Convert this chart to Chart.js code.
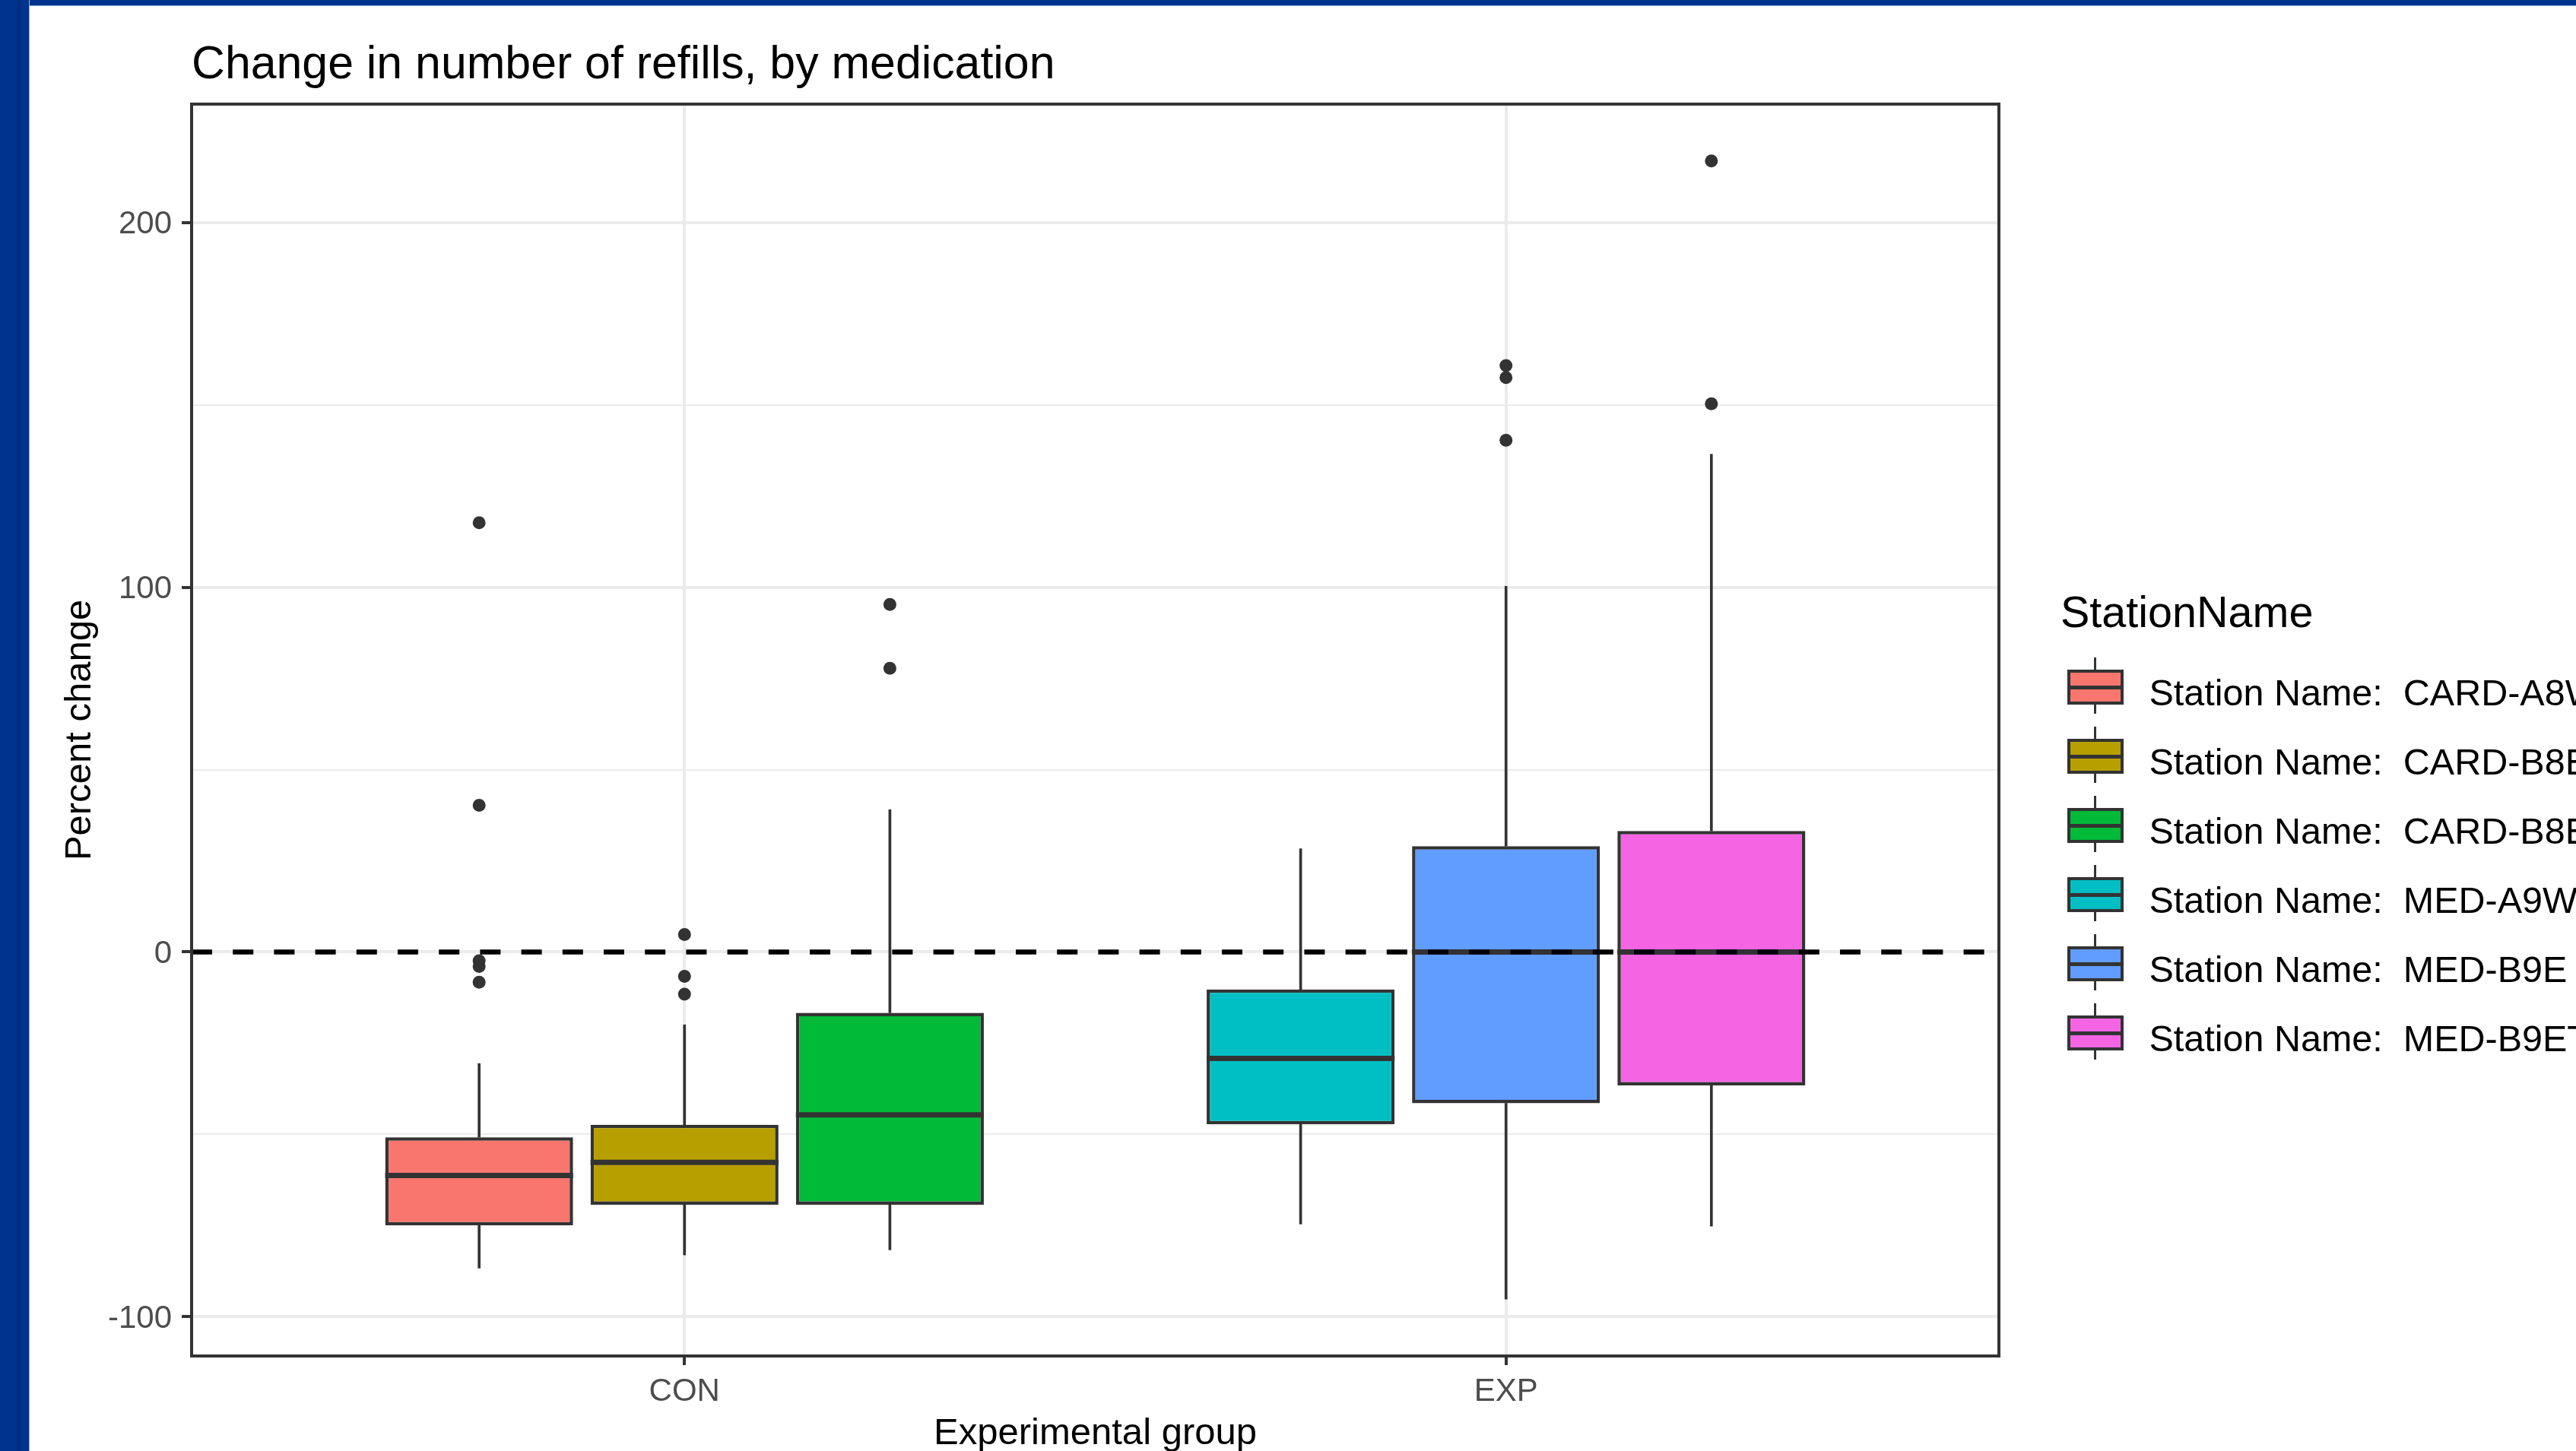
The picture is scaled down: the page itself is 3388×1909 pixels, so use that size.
<!DOCTYPE html>
<html>
<head>
<meta charset="utf-8">
<title>Change in number of refills, by medication</title>
<script src="https://cdn.jsdelivr.net/npm/chart.js@4.4.0/dist/chart.umd.min.js"></script>
<style>
  html, body { margin: 0; padding: 0; width: 3388px; height: 1909px; overflow: hidden; background: #fff; }
  #frameTop { position: absolute; left: 0; top: 0; width: 3388px; height: 7px; background: #00338d; border-bottom: 1px solid #8fa9dc; }
  #frameLeft { position: absolute; left: 0; top: 0; width: 38px; height: 1909px; background: #00338d; border-right: 1px solid #8fa9dc; }
  #frameLeft::after { content: ''; position: absolute; left: 22px; top: 0; width: 5px; height: 100%; background: #002c80; }
  #myChart { position: absolute; left: 0; top: 0; width: 3388px; height: 1909px; }
  .legend { position: absolute; left: 2710px; top: 0; font-family: 'Liberation Sans', Arial, sans-serif; color: #000; white-space: nowrap; }
  .legend-title { position: absolute; left: 0; top: 776px; font-size: 57.5px; line-height: 58px; }
  .legend-row { position: absolute; left: 0; width: 1000px; height: 91px; }
  .key-whisker { position: absolute; left: 44px; top: 9px; width: 3px; height: 74px; background: #333; }
  .key-box { position: absolute; left: 8.5px; top: 24.5px; width: 74px; height: 46px; box-sizing: border-box; border: 4.5px solid #333; }
  .key-median { position: absolute; left: 8.5px; top: 46px; width: 74px; height: 4.5px; background: #333; }
  .key-label { position: absolute; left: 116.5px; top: 30px; font-size: 48.5px; line-height: 50px; white-space: pre; }
</style>
</head>
<body>
<div id="frameTop"></div>
<div id="frameLeft"></div>
<canvas id="myChart" width="3388" height="1909"></canvas>
<div class="legend" id="legend"></div>
<script>
// values (percent change)
const groups = ['CON', 'EXP'];
const stations = ['CARD-A8W', 'CARD-B8E', 'CARD-B8ET', 'MED-A9W', 'MED-B9E', 'MED-B9ET'];
const stationGroup = ['CON', 'CON', 'CON', 'EXP', 'EXP', 'EXP'];
const whiskerLow = [-86.7, -83.1, -81.7, -74.6, -95.2, -75.2];
const lowerQuartile = [-75.0, -69.3, -69.3, -47.3, -41.5, -36.6];
const medians = [-61.3, -57.7, -44.7, -29.2, 0.0, 0.0];
const upperQuartile = [-50.8, -47.4, -16.7, -10.3, 29.0, 33.2];
const whiskerHigh = [-30.6, -20.0, 39.0, 28.3, 100.3, 136.5];
const outliers = [
    [117.7, 40.2, -2.4, -4.0, -8.3],
    [4.8, -6.7, -11.6],
    [95.3, 77.8],
    [],
    [160.8, 157.5, 140.3],
    [216.9, 150.3]
];
const fillColors = ['#F8766D', '#B79F00', '#00BA38', '#00BFC4', '#619CFF', '#F564E3'];
const yMajor = [-100, 0, 100, 200];
const yMinor = [-50, 50, 150];
const yLimits = [-110.8, 232.5];
const xLimits = [0.4, 2.6];
const refLine = 0;

Chart.defaults.font.family = "'Liberation Sans', Arial, sans-serif";

// dodge the boxes inside each group, like ggplot does (0.75 wide)
var dodgeWidth = 0.75;
var xPos = stations.map(function (s, i) {
    var members = stations.filter(function (_, j) { return stationGroup[j] === stationGroup[i]; });
    var slot = members.indexOf(s);
    return groups.indexOf(stationGroup[i]) + 1 + (slot - (members.length - 1) / 2) * dodgeWidth / members.length;
});

var datasets = [];
var boxIndex = [];
stations.forEach(function (s, i) {
    datasets.push({
        type: 'bar',
        label: s + ' whiskers',
        order: 3,
        data: [{x: xPos[i], y: [whiskerLow[i], lowerQuartile[i]]}, {x: xPos[i], y: [upperQuartile[i], whiskerHigh[i]]}],
        backgroundColor: '#333333',
        borderWidth: 0,
        barThickness: 3,
        grouped: false
    });
    boxIndex.push(datasets.length);
    datasets.push({
        type: 'bar',
        label: s,
        order: 2,
        data: [{x: xPos[i], y: [lowerQuartile[i], upperQuartile[i]]}],
        backgroundColor: fillColors[i],
        borderColor: '#333333',
        borderWidth: 4.5,
        borderSkipped: false,
        grouped: false,
        categoryPercentage: 1,
        barPercentage: 0.915
    });
    datasets.push({
        type: 'scatter',
        label: s + ' outliers',
        order: 1,
        data: outliers[i].map(function (v) { return {x: xPos[i], y: v}; }),
        pointRadius: 8.5,
        pointHoverRadius: 8.5,
        pointBackgroundColor: '#333333',
        pointBorderWidth: 0
    });
});

// medians, dashed reference line and panel border
var boxplotOverlay = {
    id: 'boxplotOverlay',
    afterDatasetsDraw: function (chart) {
        var ctx = chart.ctx;
        var area = chart.chartArea;
        var y = chart.scales.y;
        ctx.save();
        ctx.strokeStyle = '#333333';
        ctx.lineWidth = 7;
        boxIndex.forEach(function (di, i) {
            var bar = chart.getDatasetMeta(di).data[0];
            var py = y.getPixelForValue(medians[i]);
            ctx.beginPath();
            ctx.moveTo(bar.x - bar.width / 2, py);
            ctx.lineTo(bar.x + bar.width / 2, py);
            ctx.stroke();
        });

        ctx.beginPath();
        ctx.rect(area.left, area.top, area.right - area.left, area.bottom - area.top);
        ctx.clip();
        ctx.setLineDash([27, 27.2]);
        ctx.lineWidth = 6.5;
        ctx.strokeStyle = '#000000';
        var zy = y.getPixelForValue(refLine);
        ctx.beginPath();
        ctx.moveTo(area.left, zy);
        ctx.lineTo(area.right, zy);
        ctx.stroke();
        ctx.restore();

        ctx.save();
        ctx.strokeStyle = '#333333';
        ctx.lineWidth = 4;
        ctx.strokeRect(area.left, area.top, area.right - area.left, area.bottom - area.top);
        ctx.restore();
    }
};

function isMajor(c) {
    return c.tick && yMajor.indexOf(c.tick.value) !== -1;
}

var ctx = document.getElementById('myChart');
var chart = new Chart(ctx, {
    type: 'bar',
    data: { datasets: datasets },
    plugins: [boxplotOverlay],
    options: {
        responsive: false,
        animation: false,
        events: [],
        layout: { padding: { left: 0, right: 759, top: 0, bottom: 0 } },
        plugins: {
            legend: { display: false },
            tooltip: { enabled: false },
            title: {
                display: true,
                text: 'Change in number of refills, by medication',
                align: 'start',
                fullSize: false,
                color: '#000000',
                font: { size: 60.8, weight: 'normal', lineHeight: 1.2 },
                padding: { top: 50, bottom: 14 }
            }
        },
        scales: {
            x: {
                type: 'linear',
                min: xLimits[0],
                max: xLimits[1],
                offset: false,
                afterBuildTicks: function (axis) {
                    axis.ticks = groups.map(function (g, i) { return {value: i + 1}; });
                },
                afterFit: function (axis) { axis.height = 125; },
                ticks: {
                    callback: function (v, i) { return groups[i]; },
                    color: '#4d4d4d',
                    font: { size: 42 },
                    padding: 10,
                    autoSkip: false,
                    maxRotation: 0
                },
                grid: { offset: false, color: '#ebebeb', lineWidth: 4, tickColor: '#333333', tickWidth: 4, tickLength: 12 },
                border: { display: false },
                title: {
                    display: true,
                    text: 'Experimental group',
                    color: '#000000',
                    font: { size: 49, lineHeight: 1 },
                    padding: { top: 0, bottom: -2 }
                }
            },
            y: {
                type: 'linear',
                min: yLimits[0],
                max: yLimits[1],
                afterBuildTicks: function (axis) {
                    axis.ticks = yMajor.concat(yMinor).sort(function (a, b) { return a - b; })
                        .map(function (v) { return {value: v}; });
                },
                afterFit: function (axis) { axis.width = 252; },
                ticks: {
                    callback: function (v) { return yMajor.indexOf(v) !== -1 ? String(v) : ''; },
                    color: '#4d4d4d',
                    font: { size: 42 },
                    padding: 13,
                    labelOffset: 3
                },
                grid: {
                    color: '#ebebeb',
                    lineWidth: function (c) { return isMajor(c) ? 4 : 2; },
                    tickColor: function (c) { return isMajor(c) ? '#333333' : 'rgba(0,0,0,0)'; },
                    tickWidth: 4,
                    tickLength: 13
                },
                border: { display: false },
                title: {
                    display: true,
                    text: 'Percent change',
                    color: '#000000',
                    font: { size: 49, lineHeight: 1.2 },
                    padding: { top: 76, bottom: 0 }
                }
            }
        }
    }
});

// legend drawn as html, keys look like ggplot's boxplot keys
var legend = document.getElementById('legend');
var legendTitle = document.createElement('div');
legendTitle.className = 'legend-title';
legendTitle.textContent = 'StationName';
legend.appendChild(legendTitle);
stations.forEach(function (s, i) {
    var row = document.createElement('div');
    row.className = 'legend-row';
    row.style.top = (856 + 91 * i) + 'px';
    row.innerHTML = '<div class="key-whisker"></div><div class="key-box" style="background:' + fillColors[i] +
        '"></div><div class="key-median"></div>';
    var label = document.createElement('div');
    label.className = 'key-label';
    label.textContent = 'Station Name:  ' + s;
    row.appendChild(label);
    legend.appendChild(row);
});
</script>
</body>
</html>
